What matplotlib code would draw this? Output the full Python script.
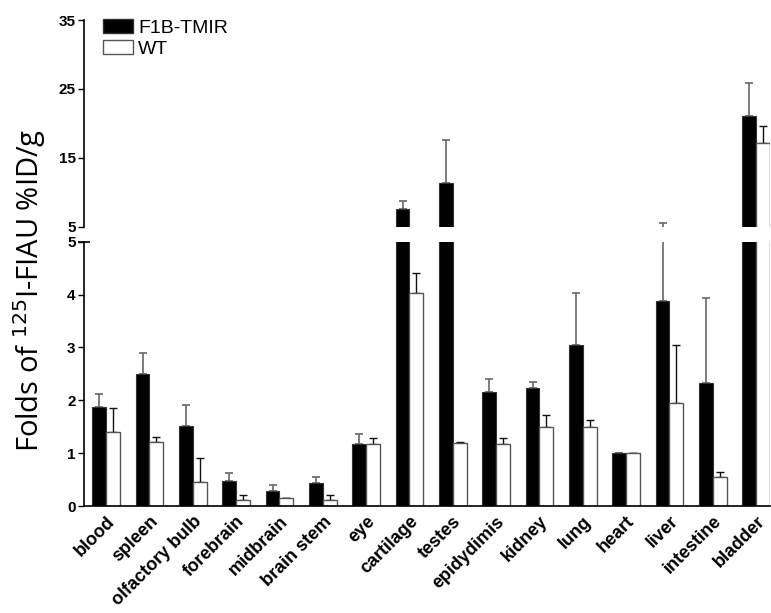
import numpy as np
import matplotlib
matplotlib.use("Agg")
import matplotlib.pyplot as plt
from matplotlib.patches import Patch

# tissue names and values
tissues = ['blood', 'spleen', 'olfactory bulb', 'forebrain', 'midbrain', 'brain stem',
           'eye', 'cartilage', 'testes', 'epidydimis', 'kidney', 'lung', 'heart',
           'liver', 'intestine', 'bladder']
f1b_mean = [1.87, 2.50, 1.52, 0.47, 0.29, 0.43, 1.17, 7.52, 11.3, 2.15, 2.23, 3.05, 1.00, 3.88, 2.33, 21.1]
f1b_err = [0.24, 0.40, 0.40, 0.15, 0.10, 0.11, 0.19, 1.25, 6.28, 0.25, 0.12, 0.98, 0.0, 1.70, 1.61, 4.7]
wt_mean = [1.40, 1.22, 0.45, 0.11, 0.15, 0.12, 1.18, 4.03, 1.20, 1.17, 1.50, 1.50, 1.00, 1.95, 0.55, 17.1]
wt_err = [0.46, 0.08, 0.45, 0.09, 0.01, 0.09, 0.10, 0.38, 0.02, 0.11, 0.23, 0.13, 0.0, 1.09, 0.09, 2.5]

lo_ticks = [0, 1, 2, 3, 4, 5]
hi_ticks = [5, 15, 25, 35]

W, H = 771, 613
fig = plt.figure(figsize=(W / 100, H / 100), dpi=100)
left, right = 84 / W, 770 / W
ax_hi = fig.add_axes([left, (H - 226.7) / H, right - left, (226.7 - 20) / H])
ax_lo = fig.add_axes([left, (H - 506) / H, right - left, (506 - 241.7) / H])

x = np.arange(len(tissues))
bw = 0.32

for ax in (ax_hi, ax_lo):
    ax.bar(x - bw / 2, f1b_mean, bw, color='black', edgecolor='#333333', linewidth=0.8, zorder=2)
    ax.bar(x + bw / 2, wt_mean, bw, color='white', edgecolor='#555555', linewidth=1.0, zorder=2)
    # one-sided (upper) error bars
    ax.errorbar(x - bw / 2, f1b_mean, yerr=[np.zeros(len(x)), f1b_err], fmt='none',
                ecolor='#666666', elinewidth=1.2, capsize=3, capthick=1.2, zorder=1)
    ax.errorbar(x + bw / 2, wt_mean, yerr=[np.zeros(len(x)), wt_err], fmt='none',
                ecolor='#111111', elinewidth=1.0, capsize=3, capthick=1.0, zorder=1)
    ax.set_xlim(-0.51, 15.32)
    for s in ('top', 'right'):
        ax.spines[s].set_visible(False)
    ax.spines['left'].set_linewidth(1.2)
    ax.tick_params(axis='y', length=4.5, width=1.0, pad=1.5)

ax_hi.set_ylim(5, 35)
ax_hi.set_yticks(hi_ticks)
ax_hi.spines['bottom'].set_visible(False)
ax_hi.set_xticks([])

ax_lo.set_ylim(0, 5)
ax_lo.set_yticks(lo_ticks)
ax_lo.spines['bottom'].set_linewidth(1.2)
ax_lo.set_xticks(x)
ax_lo.set_xticklabels(tissues, rotation=45, ha='right', rotation_mode='anchor',
                      fontsize=13, fontweight='bold', family='Liberation Sans')
ax_lo.tick_params(axis='x', length=0, pad=5)
# cross tick at the top end of the lower axis
ax_lo.plot([0], [5], marker='_', ms=9, mew=1.2, color='black',
           transform=ax_lo.get_yaxis_transform(), clip_on=False)

for ax in (ax_hi, ax_lo):
    for lab in ax.get_yticklabels():
        lab.set_fontweight('bold')
        lab.set_fontsize(11)
        lab.set_family('Liberation Sans')

fig.text(30 / W, (H - 290) / H, 'Folds of $^{125}$I-FIAU %ID/g', rotation=90,
         ha='center', va='center', fontsize=21, family='Open Sans')

handles = [Patch(facecolor='black', edgecolor='#333333', label='F1B-TMIR'),
           Patch(facecolor='white', edgecolor='#555555', label='WT')]
fig.legend(handles=handles, loc='upper left', bbox_to_anchor=(103 / W, (H - 19) / H),
           frameon=False, borderpad=0, borderaxespad=0, handlelength=1.55,
           handleheight=0.72, handletextpad=0.25, labelspacing=0.17,
           prop={'family': 'Liberation Sans', 'size': 14})

fig.savefig('out.png', dpi=100)
